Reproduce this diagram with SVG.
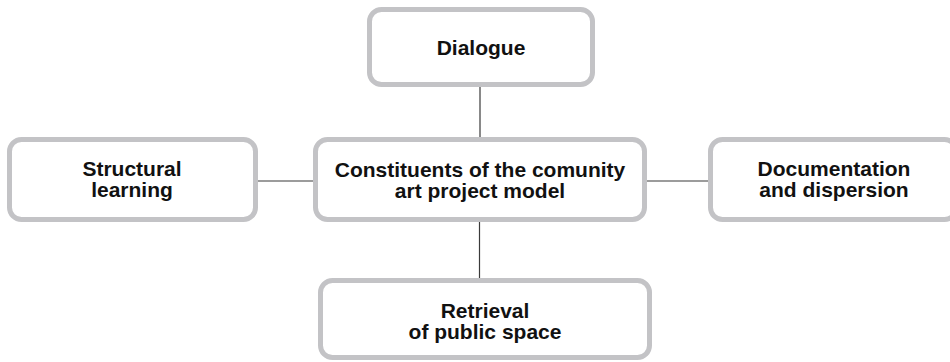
<svg xmlns="http://www.w3.org/2000/svg" width="950" height="362" viewBox="0 0 950 362">
<style>
.box{fill:#ffffff;stroke:#c3c3c6;stroke-width:5}
.t{font-family:"Liberation Sans",Arial,sans-serif;font-weight:bold;font-size:21px;fill:#111111;text-anchor:middle}
.c{stroke:#3a3a3a;stroke-width:1.2;fill:none}
</style>
<rect width="950" height="362" fill="#ffffff"/>
<g id="connectors">
<line class="c" x1="480" y1="87" x2="480" y2="137"/>
<line class="c" x1="479.5" y1="222" x2="479.5" y2="278"/>
<line class="c" x1="258" y1="181" x2="313" y2="181"/>
<line class="c" x1="647" y1="181" x2="708" y2="181"/>
</g>
<g id="dialogue">
<rect class="box" x="369.5" y="9.5" width="223" height="75" rx="12"/>
<text class="t" x="481" y="55">Dialogue</text>
</g>
<g id="center">
<rect class="box" x="315.5" y="139.5" width="329" height="80" rx="12"/>
<text class="t" x="480" y="177">Constituents of the comunity</text>
<text class="t" x="480" y="198">art project model</text>
</g>
<g id="structural">
<rect class="box" x="9.5" y="139.5" width="246" height="80" rx="12"/>
<text class="t" x="132" y="176">Structural</text>
<text class="t" x="132" y="197">learning</text>
</g>
<g id="documentation">
<rect class="box" x="710.5" y="139.5" width="246" height="80" rx="12"/>
<text class="t" x="834" y="176">Documentation</text>
<text class="t" x="834" y="197">and dispersion</text>
</g>
<g id="retrieval">
<rect class="box" x="320.5" y="280.5" width="329" height="77" rx="12"/>
<text class="t" x="485" y="318">Retrieval</text>
<text class="t" x="485" y="339">of public space</text>
</g>
</svg>
